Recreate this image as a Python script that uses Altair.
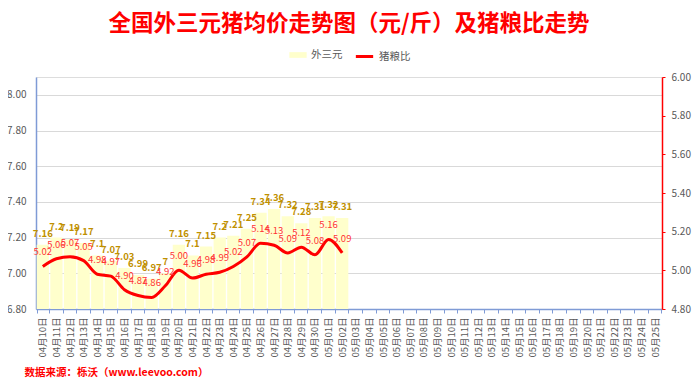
import altair as alt
import pandas as pd

dates = ["04月10日", "04月11日", "04月12日", "04月13日", "04月14日", "04月15日", "04月16日",
         "04月17日", "04月18日", "04月19日", "04月20日", "04月21日", "04月22日", "04月23日",
         "04月24日", "04月25日", "04月26日", "04月27日", "04月28日", "04月29日", "04月30日",
         "05月01日", "05月02日", "05月03日", "05月04日", "05月05日", "05月06日", "05月07日",
         "05月08日", "05月09日", "05月10日", "05月11日", "05月12日", "05月13日", "05月14日",
         "05月15日", "05月16日", "05月17日", "05月18日", "05月19日", "05月20日", "05月21日",
         "05月22日", "05月23日", "05月24日", "05月25日"]
prices = [7.16, 7.2, 7.19, 7.17, 7.1, 7.07, 7.03, 6.99, 6.97, 7, 7.16, 7.1, 7.15, 7.2,
          7.21, 7.25, 7.34, 7.36, 7.32, 7.28, 7.31, 7.32, 7.31]
ratios = [5.02, 5.06, 5.07, 5.05, 4.98, 4.97, 4.90, 4.87, 4.86, 4.92, 5.00, 4.96, 4.98,
          4.99, 5.02, 5.07, 5.14, 5.13, 5.09, 5.12, 5.08, 5.16, 5.09]

n = len(prices)
df = pd.DataFrame({
    "date": dates[:n],
    "price": prices,
    "ratio": ratios,
    "base": [6.8] * n,
    "s1": ["外三元"] * n,
    "s2": ["猪粮比"] * n,
})

FONT = "Noto Sans CJK SC"
GRAY = "#595959"
BLUE = "#7F9BD6"

x = alt.X("date:N", scale=alt.Scale(domain=dates, paddingInner=0.1, paddingOuter=0.05),
          axis=alt.Axis(labelAngle=270, labelFontSize=9.5, labelColor=GRAY, labelFont=FONT,
                        labelPadding=4, tickSize=4, tickColor=BLUE, domainColor=BLUE,
                        tickBand="extent", domainWidth=1.5,
                        title="数据来源：栎沃（www.leevoo.com）", titleColor="#FF0000",
                        titleFont=FONT, titleFontSize=10.5, titleFontWeight="bold",
                        titleAnchor="start", titleAlign="left", titleBaseline="middle",
                        titleX=-12, titleY=63))

yl = alt.Y("price:Q", scale=alt.Scale(domain=[6.8, 8.1], nice=False, zero=False),
           axis=alt.Axis(values=[6.8, 7.0, 7.2, 7.4, 7.6, 7.8, 8.0], format=".2f",
                         labelFontSize=10, labelColor=GRAY, labelFont=FONT, labelPadding=10,
                         ticks=False, domainColor=BLUE, domainWidth=1.5, gridColor="#D9D9D9",
                         title=None))

bars = alt.Chart(df).mark_bar(strokeWidth=0, clip=True).encode(
    x=x, y=yl, y2="base:Q",
    fill=alt.Fill("s1:N", scale=alt.Scale(range=["#FFFFCC"]),
                  legend=alt.Legend(title=None, orient="none", legendX=253, legendY=-31,
                                    symbolType="M-1,-0.33H1V0.33H-1Z", symbolSize=300,
                                    symbolStrokeWidth=0, labelFontSize=10.5, labelColor=GRAY,
                                    labelFont=FONT)),
)
price_text = alt.Chart(df).mark_text(baseline="bottom", dy=-6, fontSize=9.5, fontWeight="bold",
                                     color="#BF9000", font=FONT).encode(
    x=x, y=yl, text=alt.Text("price:Q", format="")
)

yr = alt.Y("ratio:Q", scale=alt.Scale(domain=[4.8, 6.0], nice=False, zero=False),
           axis=alt.Axis(orient="right", values=[4.8, 5.0, 5.2, 5.4, 5.6, 5.8, 6.0], format=".2f",
                         labelFontSize=10, labelColor=GRAY, labelFont=FONT, labelPadding=6,
                         tickSize=3, tickColor="#FF0000", domainColor="#FF0000", domainWidth=1.5,
                         grid=False, title=None))

line = alt.Chart(df).mark_line(strokeWidth=3, interpolate="monotone").encode(
    x=x, y=yr,
    stroke=alt.Stroke("s2:N", scale=alt.Scale(range=["#FF0000"]),
                      legend=alt.Legend(title=None, orient="none", legendX=318, legendY=-31,
                                        symbolType="stroke", symbolSize=300, symbolStrokeWidth=3,
                                        labelFontSize=10.5, labelColor=GRAY, labelFont=FONT)),
)
ratio_text = alt.Chart(df).mark_text(baseline="bottom", dy=-9, fontSize=9.5,
                                     color="#FF3333", font=FONT).encode(
    x=x, y=yr, text=alt.Text("ratio:Q", format=".2f")
)

left = alt.layer(bars, price_text)
right = alt.layer(line, ratio_text)

chart = alt.layer(left, right).resolve_scale(y="independent").properties(
    width=626, height=232,
    autosize=alt.AutoSizeParams(type="none"),
    padding={"left": 28, "top": 69, "right": 30, "bottom": 70},
    title=alt.TitleParams("全国外三元猪均价走势图（元/斤）及猪粮比走势", color="#FF0000",
                          font=FONT, fontSize=22.5, fontWeight="bold", anchor="middle",
                          frame="group", offset=11),
).configure_view(stroke=None).configure(background="white")

chart.save("out.html", embed_options={"renderer": "svg", "actions": False})
